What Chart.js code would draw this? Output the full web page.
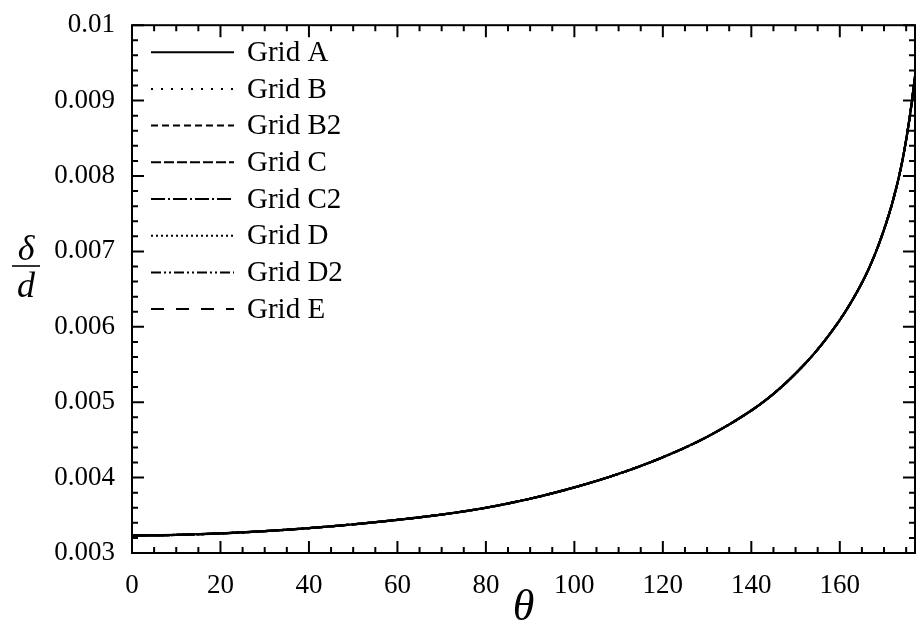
<!DOCTYPE html>
<html>
<head>
<meta charset="utf-8">
<script src="https://cdn.jsdelivr.net/npm/chart.js@4.4.1/dist/chart.umd.min.js"></script>
<style>
  html, body { margin: 0; padding: 0; background: #fff; }
  #wrap { width: 918px; height: 629px; }
</style>
</head>
<body>
<div id="wrap"><canvas id="myChart"></canvas></div>
<script>
// Dados
const gridNames = ['Grid A', 'Grid B', 'Grid B2', 'Grid C', 'Grid C2', 'Grid D', 'Grid D2', 'Grid E'];
const theta = [0, 10, 20, 30, 40, 50, 60, 70, 80, 90, 100, 110, 120, 130, 140, 145, 150, 155, 160, 163, 166, 168, 170, 172, 174, 175, 176, 177];
const deltaOverD = [0.00323, 0.00324, 0.00326, 0.00329, 0.00333, 0.00338, 0.00344, 0.00351, 0.00360, 0.00372, 0.00387, 0.00405, 0.00427, 0.00454, 0.00489, 0.00511, 0.00538, 0.00570, 0.00609, 0.00637, 0.00670, 0.00697, 0.00729, 0.00767, 0.00816, 0.00848, 0.00886, 0.00932];
const xTicks = [0, 20, 40, 60, 80, 100, 120, 140, 160];
const yTicks = [0.003, 0.004, 0.005, 0.006, 0.007, 0.008, 0.009, 0.01];

// estilos das linhas
const dashes = [[], [2, 8], [7, 4], [10, 3], [14, 3, 2, 3], [2, 3], [10, 3, 2, 3, 2, 3], [13, 12]];

const serif = "'Liberation Serif', 'DejaVu Serif', serif";

const datasets = gridNames.map((name, i) => ({
    label: name,
    data: theta.map((t, k) => ({ x: t, y: deltaOverD[k] })),
    borderColor: '#000',
    borderWidth: 2.2,
    borderDash: dashes[i],
    pointRadius: 0,
    fill: false,
    cubicInterpolationMode: 'monotone'
}));

// moldura, ticks internos, legenda e títulos
const decor = {
    id: 'decor',
    afterDraw(chart) {
        const { ctx, chartArea: a, scales } = chart;
        const xs = scales.x, ys = scales.y;
        ctx.save();
        ctx.strokeStyle = '#000';
        ctx.lineWidth = 2;
        ctx.setLineDash([]);
        ctx.strokeRect(a.left, a.top, a.right - a.left, a.bottom - a.top);

        ctx.beginPath();
        for (let v = 0; v <= xs.max + 0.01; v += 5) {
            const px = xs.getPixelForValue(v);
            const len = v % 20 === 0 ? 12 : 6;
            ctx.moveTo(px, a.bottom); ctx.lineTo(px, a.bottom - len);
            ctx.moveTo(px, a.top); ctx.lineTo(px, a.top + len);
        }
        for (let k = 0; k <= 35; k++) {
            const v = 0.003 + k * 0.0002;
            const py = ys.getPixelForValue(v);
            const len = k % 5 === 0 ? 12 : 6;
            ctx.moveTo(a.left, py); ctx.lineTo(a.left + len, py);
            ctx.moveTo(a.right, py); ctx.lineTo(a.right - len, py);
        }
        ctx.stroke();

        // legenda
        ctx.font = '29px ' + serif;
        ctx.fillStyle = '#000';
        ctx.textBaseline = 'middle';
        ctx.textAlign = 'left';
        chart.data.datasets.forEach((ds, i) => {
            const y = a.top + 27 + i * 36.7;
            ctx.beginPath();
            ctx.setLineDash(ds.borderDash);
            ctx.lineWidth = 2;
            ctx.moveTo(a.left + 19, y);
            ctx.lineTo(a.left + 102, y);
            ctx.stroke();
            ctx.fillText(ds.label, a.left + 115, y + 1);
        });
        ctx.setLineDash([]);

        // título do eixo x
        ctx.font = 'italic 44px ' + serif;
        ctx.textAlign = 'center';
        ctx.fillText('θ', (a.left + a.right) / 2, 608);

        // título do eixo y: δ/d
        const cx = 26, cy = 266;
        ctx.font = 'italic 36px ' + serif;
        ctx.textBaseline = 'alphabetic';
        ctx.fillText('δ', cx, cy - 6);
        ctx.fillText('d', cx, cy + 31);
        ctx.lineWidth = 1.6;
        ctx.beginPath();
        ctx.moveTo(cx - 14, cy); ctx.lineTo(cx + 14, cy);
        ctx.stroke();
        ctx.restore();
    }
};

const config = {
    type: 'line',
    data: { datasets: datasets },
    options: {
        responsive: true,
        maintainAspectRatio: false,
        animation: false,
        layout: { padding: { top: 16, right: 3, left: 0, bottom: 0 } },
        plugins: { legend: { display: false }, tooltip: { enabled: false } },
        scales: {
            x: {
                type: 'linear',
                min: 0,
                max: 177,
                afterBuildTicks: s => { s.ticks = xTicks.map(v => ({ value: v })); },
                afterFit: s => { s.height = 76; },
                grid: { display: false },
                border: { display: false },
                ticks: { color: '#000', padding: 9, maxRotation: 0, font: { family: serif, size: 27 } }
            },
            y: {
                type: 'linear',
                min: 0.003,
                max: 0.01,
                afterBuildTicks: s => { s.ticks = yTicks.map(v => ({ value: v })); },
                afterFit: s => { s.width = 132; },
                grid: { display: false },
                border: { display: false },
                ticks: {
                    color: '#000', padding: 9,
                    font: { family: serif, size: 27 },
                    callback: v => String(+v.toFixed(3))
                }
            }
        }
    },
    plugins: [decor]
};

new Chart(document.getElementById('myChart').getContext('2d'), config);
</script>
</body>
</html>
